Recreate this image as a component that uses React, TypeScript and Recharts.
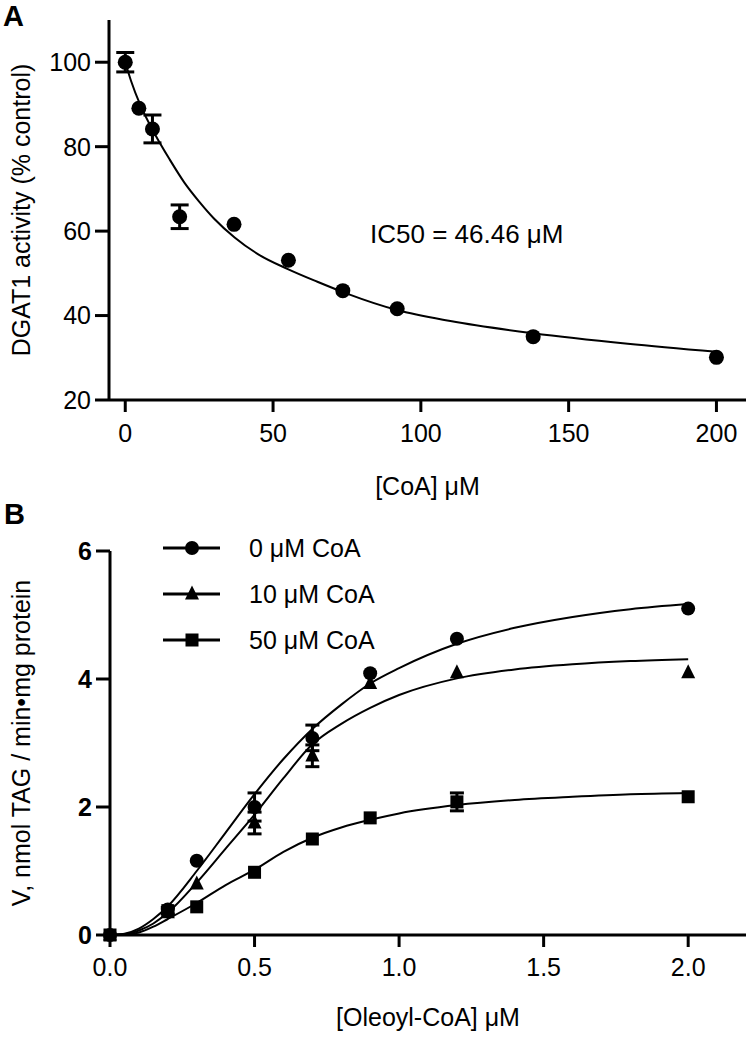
import React from "react";
import { ComposedChart, Line, Scatter, XAxis, YAxis, ErrorBar, Legend } from "recharts";

const FONT = "'Liberation Sans', Arial, Helvetica, sans-serif";

// panel A - DGAT1 activity vs [CoA]
const coaConc = [0, 4.6, 9.2, 18.4, 36.8, 55.2, 73.6, 92, 138, 200];
const activity = [100, 89.1, 84.2, 63.4, 61.6, 53.1, 45.9, 41.6, 35, 30.1];
const activityErr = [2.3, null, 3.3, 2.8, null, null, null, null, null, null];
// fitted curve
const fitAx = [0, 2, 5, 10, 15, 20, 25, 30, 37, 45, 55, 65, 75, 92, 110, 138, 170, 200];
const fitAy = [100, 95.5, 90, 83, 77, 71.5, 67, 63, 58.5, 54.5, 51, 48, 45.2, 41.3, 38.7, 35.8, 33.3, 31.4];
const ticksAx = [0, 50, 100, 150, 200];
const ticksAy = [20, 40, 60, 80, 100];

// panel B - V vs [Oleoyl-CoA]
const oleoyl = [0, 0.2, 0.3, 0.5, 0.7, 0.9, 1.2, 2.0];
const v0 = [0, 0.4, 1.16, 2.0, 3.08, 4.09, 4.63, 5.1];
const v0Err = [null, null, null, 0.22, 0.2, null, null, null];
const v10 = [0, 0.35, 0.8, 1.75, 2.8, 3.93, 4.1, 4.1];
const v10Err = [null, null, null, 0.17, 0.17, null, null, null];
const v50 = [0, 0.38, 0.44, 0.98, 1.5, 1.83, 2.08, 2.16];
const v50Err = [null, 0.05, null, null, null, null, 0.14, null];
const fitBx = [0, 0.05, 0.1, 0.15, 0.2, 0.3, 0.4, 0.5, 0.6, 0.7, 0.8, 0.9, 1.0, 1.2, 1.4, 1.6, 1.8, 2.0];
const fit0 = [0, 0.02, 0.1, 0.25, 0.45, 1.0, 1.6, 2.2, 2.75, 3.22, 3.6, 3.93, 4.17, 4.55, 4.8, 4.97, 5.09, 5.17];
const fit10 = [0, 0.01, 0.07, 0.18, 0.35, 0.82, 1.35, 1.88, 2.45, 2.98, 3.3, 3.55, 3.75, 4.01, 4.15, 4.23, 4.28, 4.31];
const fit50 = [0, 0.01, 0.04, 0.13, 0.25, 0.5, 0.78, 1.02, 1.3, 1.52, 1.68, 1.8, 1.9, 2.03, 2.11, 2.16, 2.2, 2.22];
const ticksBx = [0, 0.5, 1, 1.5, 2];
const ticksBy = [0, 2, 4, 6];
const legendNames = ["0 μM CoA", "10 μM CoA", "50 μM CoA"];

const ptsA = coaConc.map((x, i) => ({ x, y: activity[i], err: activityErr[i] }));
const curveA = fitAx.map((x, i) => ({ x, y: fitAy[i] }));
const pts = (ys: number[], errs: (number | null)[]) =>
  oleoyl.map((x, i) => ({ x, y: ys[i], err: errs[i] }));
const curve = (ys: number[]) => fitBx.map((x, i) => ({ x, y: ys[i] }));

const dot = (r: number) => (p: any) => <circle cx={p.cx} cy={p.cy} r={r} fill="#000" />;
const square = (s: number) => (p: any) => (
  <rect x={p.cx - s / 2} y={p.cy - s / 2} width={s} height={s} fill="#000" />
);
const tri = (s: number) => (p: any) => (
  <polygon
    points={`${p.cx},${p.cy - s * 0.6} ${p.cx - s / 2},${p.cy + s * 0.4} ${p.cx + s / 2},${p.cy + s * 0.4}`}
    fill="#000"
  />
);
const shapesB = [dot(7), tri(14), square(13)];

const FS = 25;
const tickStyle = { fill: "#000", fontSize: FS, fontFamily: FONT };
const axisStroke = { stroke: "#000", strokeWidth: 3 };

const xTitle = (text: string, y: number) => (props: any) => {
  const vb = props.viewBox;
  return (
    <text x={vb.x + vb.width / 2} y={y} textAnchor="middle" fill="#000" fontSize={FS} fontFamily={FONT}>
      {text}
    </text>
  );
};
const yTitle = (text: string, x: number) => (props: any) => {
  const vb = props.viewBox;
  const cy = vb.y + vb.height / 2;
  return (
    <text x={x} y={cy} transform={`rotate(-90, ${x}, ${cy})`} textAnchor="middle" fill="#000" fontSize={FS} fontFamily={FONT}>
      {text}
    </text>
  );
};

const renderLegend = () => (
  <div style={{ fontFamily: FONT, fontSize: FS, color: "#000" }}>
    {legendNames.map((n, i) => (
      <div key={n} style={{ display: "flex", alignItems: "center", height: 46 }}>
        <svg width={58} height={20}>
          <line x1={0} y1={10} x2={57} y2={10} stroke="#000" strokeWidth={3} />
          {shapesB[i]({ cx: 29, cy: 10 })}
        </svg>
        <span style={{ marginLeft: 28 }}>{n}</span>
      </div>
    ))}
  </div>
);

export default function App() {
  return (
    <div style={{ position: "absolute", left: 0, top: 0, width: 750, height: 1037, background: "#fff" }}>
      <div style={{ position: "absolute", left: 0, top: 0 }}>
        <ComposedChart width={750} height={520} margin={{ top: 20, right: 4, left: 0, bottom: 20 }}>
          <XAxis
            type="number"
            dataKey="x"
            domain={[-5.5, 210]}
            ticks={ticksAx}
            height={100}
            tick={tickStyle}
            tickSize={12}
            tickMargin={12}
            axisLine={axisStroke}
            tickLine={axisStroke}
            label={xTitle("[CoA] μM", 495)}
          />
          <YAxis
            type="number"
            domain={[20, 110]}
            ticks={ticksAy}
            width={109}
            tick={tickStyle}
            tickSize={14}
            tickMargin={4}
            axisLine={axisStroke}
            tickLine={axisStroke}
            label={yTitle("DGAT1 activity (% control)", 30)}
          />
          <Line data={curveA} dataKey="y" type="monotone" dot={false} stroke="#000" strokeWidth={2} isAnimationActive={false} />
          <Scatter data={ptsA} dataKey="y" shape={dot(7.5)} isAnimationActive={false}>
            <ErrorBar dataKey="err" direction="y" width={9} stroke="#000" strokeWidth={3} />
          </Scatter>
        </ComposedChart>
      </div>
      <div style={{ position: "absolute", left: 0, top: 520 }}>
        <ComposedChart width={750} height={517} margin={{ top: 31, right: 4, left: 0, bottom: 5 }}>
          <XAxis
            type="number"
            dataKey="x"
            domain={[0, 2.2]}
            ticks={ticksBx}
            height={97}
            tick={tickStyle}
            tickFormatter={(v: number) => v.toFixed(1)}
            tickSize={12}
            tickMargin={11}
            axisLine={axisStroke}
            tickLine={axisStroke}
            label={xTitle("[Oleoyl-CoA] μM", 506)}
          />
          <YAxis
            type="number"
            domain={[0, 6]}
            ticks={ticksBy}
            width={110}
            tick={{ ...tickStyle, fontWeight: "bold" }}
            tickSize={14}
            tickMargin={4}
            axisLine={axisStroke}
            tickLine={axisStroke}
            label={yTitle("V, nmol TAG / min•mg protein", 30)}
          />
          <Legend
            content={renderLegend}
            layout="vertical"
            align="center"
            verticalAlign="middle"
            wrapperStyle={{ left: 163, top: 5, width: "auto" }}
          />
          <Line data={curve(fit0)} dataKey="y" type="monotone" dot={false} stroke="#000" strokeWidth={2} isAnimationActive={false} />
          <Line data={curve(fit10)} dataKey="y" type="monotone" dot={false} stroke="#000" strokeWidth={2} isAnimationActive={false} />
          <Line data={curve(fit50)} dataKey="y" type="monotone" dot={false} stroke="#000" strokeWidth={2} isAnimationActive={false} />
          <Scatter data={pts(v0, v0Err)} dataKey="y" shape={shapesB[0]} isAnimationActive={false}>
            <ErrorBar dataKey="err" direction="y" width={7} stroke="#000" strokeWidth={3} />
          </Scatter>
          <Scatter data={pts(v10, v10Err)} dataKey="y" shape={shapesB[1]} isAnimationActive={false}>
            <ErrorBar dataKey="err" direction="y" width={7} stroke="#000" strokeWidth={3} />
          </Scatter>
          <Scatter data={pts(v50, v50Err)} dataKey="y" shape={shapesB[2]} isAnimationActive={false}>
            <ErrorBar dataKey="err" direction="y" width={7} stroke="#000" strokeWidth={3} />
          </Scatter>
        </ComposedChart>
      </div>
      <svg width={750} height={1037} style={{ position: "absolute", left: 0, top: 0, pointerEvents: "none" }}>
        <text x={3} y={26} fontSize={29} fontWeight="bold" fontFamily={FONT} fill="#000">A</text>
        <text x={4} y={524} fontSize={29} fontWeight="bold" fontFamily={FONT} fill="#000">B</text>
        <text x={370} y={243} fontSize={26} fontFamily={FONT} fill="#000">IC50 = 46.46 μM</text>
      </svg>
    </div>
  );
}
